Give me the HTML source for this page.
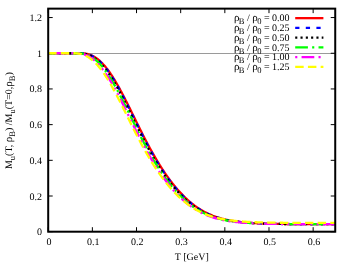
<!DOCTYPE html>
<html><head><meta charset="utf-8"><title>plot</title>
<style>
html,body{margin:0;padding:0;background:#fff;}
body{width:353px;height:263px;overflow:hidden;}
svg{display:block;}
text{font-family:"Liberation Serif",serif;font-size:10px;fill:#000;text-rendering:geometricPrecision;}
.txt{filter:grayscale(1);}
.sub{font-size:8.5px;}
.rho{font-size:11px;}
</style></head><body>
<svg width="353" height="263" viewBox="0 0 353 263">
<rect width="353" height="263" fill="#fff"/>
<path d="M48.20,53.5H335.23" stroke="#9a9a9a" stroke-width="1" fill="none"/>
<g stroke="#000" stroke-width="1" fill="none">
<path d="M48.20,231.70V227.20 M48.20,8.64V13.14"/>
<path d="M92.36,231.70V227.20 M92.36,8.64V13.14"/>
<path d="M136.52,231.70V227.20 M136.52,8.64V13.14"/>
<path d="M180.68,231.70V227.20 M180.68,8.64V13.14"/>
<path d="M224.83,231.70V227.20 M224.83,8.64V13.14"/>
<path d="M268.99,231.70V227.20 M268.99,8.64V13.14"/>
<path d="M313.15,231.70V227.20 M313.15,8.64V13.14"/>
<path d="M48.20,231.70H52.70 M335.23,231.70H330.73"/>
<path d="M48.20,196.01H52.70 M335.23,196.01H330.73"/>
<path d="M48.20,160.32H52.70 M335.23,160.32H330.73"/>
<path d="M48.20,124.63H52.70 M335.23,124.63H330.73"/>
<path d="M48.20,88.94H52.70 M335.23,88.94H330.73"/>
<path d="M48.20,53.25H52.70 M335.23,53.25H330.73"/>
<path d="M48.20,17.56H52.70 M335.23,17.56H330.73"/>
</g>
<g>
<path d="M48.20,53.25 L48.92,53.25 L49.64,53.25 L50.36,53.25 L51.08,53.25 L51.80,53.25 L52.52,53.25 L53.24,53.25 L53.95,53.25 L54.67,53.25 L55.39,53.25 L56.11,53.25 L56.83,53.25 L57.55,53.25 L58.27,53.25 L58.99,53.25 L59.71,53.25 L60.43,53.25 L61.15,53.25 L61.87,53.25 L62.59,53.25 L63.31,53.25 L64.03,53.25 L64.75,53.25 L65.46,53.25 L66.18,53.25 L66.90,53.25 L67.62,53.25 L68.34,53.25 L69.06,53.25 L69.78,53.25 L70.50,53.25 L71.22,53.25 L71.94,53.25 L72.66,53.25 L73.38,53.25 L74.10,53.25 L74.82,53.25 L75.54,53.25 L76.26,53.25 L76.97,53.25 L77.69,53.25 L78.41,53.25 L79.13,53.25 L79.85,53.25 L80.57,53.25 L81.29,53.27 L82.01,53.29 L82.73,53.33 L83.45,53.38 L84.17,53.45 L84.89,53.54 L85.61,53.65 L86.33,53.78 L87.05,53.93 L87.77,54.10 L88.48,54.30 L89.20,54.52 L89.92,54.77 L90.64,55.04 L91.36,55.34 L92.08,55.66 L92.80,56.02 L93.52,56.39 L94.24,56.80 L94.96,57.24 L95.68,57.70 L96.40,58.19 L97.12,58.71 L97.84,59.26 L98.56,59.84 L99.28,60.45 L99.99,61.09 L100.71,61.76 L101.43,62.45 L102.15,63.18 L102.87,63.93 L103.59,64.71 L104.31,65.52 L105.03,66.36 L105.75,67.23 L106.47,68.12 L107.19,69.05 L107.91,69.99 L108.63,70.97 L109.35,71.97 L110.07,73.00 L110.79,74.05 L111.50,75.12 L112.22,76.22 L112.94,77.34 L113.66,78.49 L114.38,79.66 L115.10,80.84 L115.82,82.05 L116.54,83.28 L117.26,84.53 L117.98,85.79 L118.70,87.07 L119.42,88.37 L120.14,89.69 L120.86,91.02 L121.58,92.37 L122.30,93.72 L123.01,95.09 L123.73,96.48 L124.45,97.87 L125.17,99.28 L125.89,100.69 L126.61,102.11 L127.33,103.54 L128.05,104.98 L128.77,106.42 L129.49,107.87 L130.21,109.32 L130.93,110.78 L131.65,112.24 L132.37,113.70 L133.09,115.16 L133.81,116.62 L134.52,118.09 L135.24,119.55 L135.96,121.01 L136.68,122.47 L137.40,123.93 L138.12,125.38 L138.84,126.83 L139.56,128.27 L140.28,129.71 L141.00,131.14 L141.72,132.57 L142.44,133.99 L143.16,135.40 L143.88,136.80 L144.60,138.20 L145.32,139.59 L146.03,140.96 L146.75,142.33 L147.47,143.69 L148.19,145.04 L148.91,146.38 L149.63,147.71 L150.35,149.02 L151.07,150.33 L151.79,151.62 L152.51,152.91 L153.23,154.18 L153.95,155.43 L154.67,156.68 L155.39,157.91 L156.11,159.13 L156.83,160.34 L157.54,161.54 L158.26,162.72 L158.98,163.89 L159.70,165.05 L160.42,166.19 L161.14,167.32 L161.86,168.44 L162.58,169.54 L163.30,170.63 L164.02,171.71 L164.74,172.78 L165.46,173.83 L166.18,174.87 L166.90,175.89 L167.62,176.90 L168.34,177.90 L169.05,178.89 L169.77,179.86 L170.49,180.82 L171.21,181.76 L171.93,182.70 L172.65,183.62 L173.37,184.52 L174.09,185.42 L174.81,186.30 L175.53,187.17 L176.25,188.02 L176.97,188.87 L177.69,189.70 L178.41,190.51 L179.13,191.32 L179.85,192.11 L180.56,192.89 L181.28,193.65 L182.00,194.41 L182.72,195.15 L183.44,195.87 L184.16,196.59 L184.88,197.29 L185.60,197.98 L186.32,198.66 L187.04,199.33 L187.76,199.98 L188.48,200.62 L189.20,201.25 L189.92,201.87 L190.64,202.47 L191.36,203.07 L192.07,203.65 L192.79,204.22 L193.51,204.77 L194.23,205.32 L194.95,205.85 L195.67,206.38 L196.39,206.89 L197.11,207.39 L197.83,207.87 L198.55,208.35 L199.27,208.82 L199.99,209.27 L200.71,209.72 L201.43,210.15 L202.15,210.57 L202.87,210.99 L203.58,211.39 L204.30,211.78 L205.02,212.16 L205.74,212.54 L206.46,212.90 L207.18,213.25 L207.90,213.60 L208.62,213.93 L209.34,214.26 L210.06,214.57 L210.78,214.88 L211.50,215.18 L212.22,215.47 L212.94,215.76 L213.66,216.03 L214.38,216.30 L215.09,216.56 L215.81,216.81 L216.53,217.05 L217.25,217.29 L217.97,217.52 L218.69,217.74 L219.41,217.96 L220.13,218.17 L220.85,218.37 L221.57,218.57 L222.29,218.76 L223.01,218.94 L223.73,219.12 L224.45,219.30 L225.17,219.46 L225.89,219.63 L226.60,219.78 L227.32,219.94 L228.04,220.08 L228.76,220.23 L229.48,220.37 L230.20,220.50 L230.92,220.63 L231.64,220.75 L232.36,220.87 L233.08,220.99 L233.80,221.10 L234.52,221.21 L235.24,221.32 L235.96,221.42 L236.68,221.52 L237.40,221.61 L238.11,221.70 L238.83,221.79 L239.55,221.88 L240.27,221.96 L240.99,222.04 L241.71,222.12 L242.43,222.19 L243.15,222.26 L243.87,222.33 L244.59,222.40 L245.31,222.46 L246.03,222.53 L246.75,222.59 L247.47,222.64 L248.19,222.70 L248.91,222.75 L249.62,222.81 L250.34,222.86 L251.06,222.90 L251.78,222.95 L252.50,223.00 L253.22,223.04 L253.94,223.08 L254.66,223.12 L255.38,223.16 L256.10,223.20 L256.82,223.24 L257.54,223.27 L258.26,223.30 L258.98,223.34 L259.70,223.37 L260.42,223.40 L261.13,223.43 L261.85,223.46 L262.57,223.48 L263.29,223.51 L264.01,223.53 L264.73,223.56 L265.45,223.58 L266.17,223.60 L266.89,223.63 L267.61,223.65 L268.33,223.67 L269.05,223.69 L269.77,223.71 L270.49,223.72 L271.21,223.74 L271.93,223.76 L272.64,223.77 L273.36,223.79 L274.08,223.81 L274.80,223.82 L275.52,223.83 L276.24,223.85 L276.96,223.86 L277.68,223.87 L278.40,223.88 L279.12,223.90 L279.84,223.91 L280.56,223.92 L281.28,223.93 L282.00,223.94 L282.72,223.95 L283.44,223.96 L284.15,223.97 L284.87,223.98 L285.59,223.98 L286.31,223.99 L287.03,224.00 L287.75,224.01 L288.47,224.01 L289.19,224.02 L289.91,224.03 L290.63,224.03 L291.35,224.04 L292.07,224.05 L292.79,224.05 L293.51,224.06 L294.23,224.06 L294.95,224.07 L295.66,224.07 L296.38,224.08 L297.10,224.08 L297.82,224.09 L298.54,224.09 L299.26,224.10 L299.98,224.10 L300.70,224.10 L301.42,224.11 L302.14,224.11 L302.86,224.11 L303.58,224.12 L304.30,224.12 L305.02,224.12 L305.74,224.13 L306.46,224.13 L307.17,224.13 L307.89,224.13 L308.61,224.14 L309.33,224.14 L310.05,224.14 L310.77,224.14 L311.49,224.15 L312.21,224.15 L312.93,224.15 L313.65,224.15 L314.37,224.15 L315.09,224.16 L315.81,224.16 L316.53,224.16 L317.25,224.16 L317.97,224.16 L318.68,224.16 L319.40,224.17 L320.12,224.17 L320.84,224.17 L321.56,224.17 L322.28,224.17 L323.00,224.17 L323.72,224.17 L324.44,224.17 L325.16,224.18 L325.88,224.18 L326.60,224.18 L327.32,224.18 L328.04,224.18 L328.76,224.18 L329.48,224.18 L330.19,224.18 L330.91,224.18 L331.63,224.18 L332.35,224.18 L333.07,224.19 L333.79,224.19 L334.51,224.19 L335.23,224.19" fill="none" stroke="#ff0000" stroke-width="2.30"/>
<path d="M48.20,53.25 L48.92,53.25 L49.64,53.25 L50.36,53.25 L51.08,53.25 L51.80,53.25 L52.52,53.25 L53.24,53.25 L53.95,53.25 L54.67,53.25 L55.39,53.25 L56.11,53.25 L56.83,53.25 L57.55,53.25 L58.27,53.25 L58.99,53.25 L59.71,53.25 L60.43,53.25 L61.15,53.25 L61.87,53.25 L62.59,53.25 L63.31,53.25 L64.03,53.25 L64.75,53.25 L65.46,53.25 L66.18,53.25 L66.90,53.25 L67.62,53.25 L68.34,53.25 L69.06,53.25 L69.78,53.25 L70.50,53.25 L71.22,53.25 L71.94,53.25 L72.66,53.25 L73.38,53.25 L74.10,53.25 L74.82,53.25 L75.54,53.25 L76.26,53.25 L76.97,53.25 L77.69,53.25 L78.41,53.25 L79.13,53.25 L79.85,53.25 L80.57,53.26 L81.29,53.29 L82.01,53.32 L82.73,53.37 L83.45,53.44 L84.17,53.53 L84.89,53.63 L85.61,53.76 L86.33,53.90 L87.05,54.07 L87.77,54.26 L88.48,54.48 L89.20,54.72 L89.92,54.99 L90.64,55.28 L91.36,55.60 L92.08,55.95 L92.80,56.32 L93.52,56.73 L94.24,57.16 L94.96,57.62 L95.68,58.10 L96.40,58.62 L97.12,59.16 L97.84,59.74 L98.56,60.34 L99.28,60.97 L99.99,61.63 L100.71,62.33 L101.43,63.05 L102.15,63.79 L102.87,64.57 L103.59,65.38 L104.31,66.21 L105.03,67.07 L105.75,67.96 L106.47,68.88 L107.19,69.82 L107.91,70.79 L108.63,71.79 L109.35,72.81 L110.07,73.86 L110.79,74.93 L111.50,76.02 L112.22,77.14 L112.94,78.28 L113.66,79.44 L114.38,80.63 L115.10,81.83 L115.82,83.06 L116.54,84.30 L117.26,85.56 L117.98,86.84 L118.70,88.14 L119.42,89.45 L120.14,90.78 L120.86,92.12 L121.58,93.48 L122.30,94.85 L123.01,96.23 L123.73,97.62 L124.45,99.02 L125.17,100.44 L125.89,101.86 L126.61,103.28 L127.33,104.72 L128.05,106.16 L128.77,107.61 L129.49,109.06 L130.21,110.52 L130.93,111.98 L131.65,113.44 L132.37,114.90 L133.09,116.36 L133.81,117.83 L134.52,119.29 L135.24,120.75 L135.96,122.21 L136.68,123.66 L137.40,125.12 L138.12,126.57 L138.84,128.01 L139.56,129.45 L140.28,130.88 L141.00,132.31 L141.72,133.73 L142.44,135.15 L143.16,136.55 L143.88,137.95 L144.60,139.34 L145.32,140.72 L146.03,142.09 L146.75,143.45 L147.47,144.80 L148.19,146.14 L148.91,147.47 L149.63,148.79 L150.35,150.10 L151.07,151.39 L151.79,152.68 L152.51,153.95 L153.23,155.21 L153.95,156.46 L154.67,157.69 L155.39,158.92 L156.11,160.13 L156.83,161.33 L157.54,162.51 L158.26,163.68 L158.98,164.84 L159.70,165.99 L160.42,167.12 L161.14,168.24 L161.86,169.35 L162.58,170.44 L163.30,171.52 L164.02,172.59 L164.74,173.64 L165.46,174.68 L166.18,175.71 L166.90,176.72 L167.62,177.72 L168.34,178.71 L169.05,179.69 L169.77,180.65 L170.49,181.60 L171.21,182.53 L171.93,183.45 L172.65,184.36 L173.37,185.26 L174.09,186.14 L174.81,187.01 L175.53,187.87 L176.25,188.72 L176.97,189.55 L177.69,190.37 L178.41,191.17 L179.13,191.97 L179.85,192.75 L180.56,193.52 L181.28,194.27 L182.00,195.01 L182.72,195.75 L183.44,196.46 L184.16,197.17 L184.88,197.86 L185.60,198.54 L186.32,199.21 L187.04,199.87 L187.76,200.51 L188.48,201.14 L189.20,201.76 L189.92,202.37 L190.64,202.96 L191.36,203.54 L192.07,204.12 L192.79,204.67 L193.51,205.22 L194.23,205.76 L194.95,206.28 L195.67,206.80 L196.39,207.30 L197.11,207.79 L197.83,208.27 L198.55,208.73 L199.27,209.19 L199.99,209.64 L200.71,210.07 L201.43,210.50 L202.15,210.91 L202.87,211.32 L203.58,211.71 L204.30,212.10 L205.02,212.47 L205.74,212.83 L206.46,213.19 L207.18,213.54 L207.90,213.87 L208.62,214.20 L209.34,214.52 L210.06,214.83 L210.78,215.13 L211.50,215.42 L212.22,215.71 L212.94,215.98 L213.66,216.25 L214.38,216.51 L215.09,216.76 L215.81,217.01 L216.53,217.25 L217.25,217.48 L217.97,217.70 L218.69,217.92 L219.41,218.13 L220.13,218.34 L220.85,218.53 L221.57,218.73 L222.29,218.91 L223.01,219.09 L223.73,219.27 L224.45,219.44 L225.17,219.60 L225.89,219.76 L226.60,219.91 L227.32,220.06 L228.04,220.20 L228.76,220.34 L229.48,220.47 L230.20,220.60 L230.92,220.73 L231.64,220.85 L232.36,220.97 L233.08,221.08 L233.80,221.19 L234.52,221.30 L235.24,221.40 L235.96,221.50 L236.68,221.59 L237.40,221.69 L238.11,221.78 L238.83,221.86 L239.55,221.95 L240.27,222.03 L240.99,222.10 L241.71,222.18 L242.43,222.25 L243.15,222.32 L243.87,222.39 L244.59,222.45 L245.31,222.51 L246.03,222.58 L246.75,222.63 L247.47,222.69 L248.19,222.74 L248.91,222.80 L249.62,222.85 L250.34,222.90 L251.06,222.94 L251.78,222.99 L252.50,223.03 L253.22,223.07 L253.94,223.12 L254.66,223.15 L255.38,223.19 L256.10,223.23 L256.82,223.26 L257.54,223.30 L258.26,223.33 L258.98,223.36 L259.70,223.39 L260.42,223.42 L261.13,223.45 L261.85,223.48 L262.57,223.50 L263.29,223.53 L264.01,223.55 L264.73,223.58 L265.45,223.60 L266.17,223.62 L266.89,223.64 L267.61,223.66 L268.33,223.68 L269.05,223.70 L269.77,223.72 L270.49,223.74 L271.21,223.76 L271.93,223.77 L272.64,223.79 L273.36,223.80 L274.08,223.82 L274.80,223.83 L275.52,223.84 L276.24,223.86 L276.96,223.87 L277.68,223.88 L278.40,223.89 L279.12,223.91 L279.84,223.92 L280.56,223.93 L281.28,223.94 L282.00,223.95 L282.72,223.96 L283.44,223.97 L284.15,223.97 L284.87,223.98 L285.59,223.99 L286.31,224.00 L287.03,224.01 L287.75,224.01 L288.47,224.02 L289.19,224.03 L289.91,224.03 L290.63,224.04 L291.35,224.05 L292.07,224.05 L292.79,224.06 L293.51,224.06 L294.23,224.07 L294.95,224.07 L295.66,224.08 L296.38,224.08 L297.10,224.09 L297.82,224.09 L298.54,224.09 L299.26,224.10 L299.98,224.10 L300.70,224.11 L301.42,224.11 L302.14,224.11 L302.86,224.12 L303.58,224.12 L304.30,224.12 L305.02,224.13 L305.74,224.13 L306.46,224.13 L307.17,224.13 L307.89,224.14 L308.61,224.14 L309.33,224.14 L310.05,224.14 L310.77,224.15 L311.49,224.15 L312.21,224.15 L312.93,224.15 L313.65,224.15 L314.37,224.16 L315.09,224.16 L315.81,224.16 L316.53,224.16 L317.25,224.16 L317.97,224.16 L318.68,224.17 L319.40,224.17 L320.12,224.17 L320.84,224.17 L321.56,224.17 L322.28,224.17 L323.00,224.17 L323.72,224.17 L324.44,224.18 L325.16,224.18 L325.88,224.18 L326.60,224.18 L327.32,224.18 L328.04,224.18 L328.76,224.18 L329.48,224.18 L330.19,224.18 L330.91,224.18 L331.63,224.18 L332.35,224.19 L333.07,224.19 L333.79,224.19 L334.51,224.19 L335.23,224.19" fill="none" stroke="#0000ff" stroke-width="2.30" stroke-dasharray="4.209,6.313"/>
<path d="M48.20,53.25 L48.92,53.25 L49.64,53.25 L50.36,53.25 L51.08,53.25 L51.80,53.25 L52.52,53.25 L53.24,53.25 L53.95,53.25 L54.67,53.25 L55.39,53.25 L56.11,53.25 L56.83,53.25 L57.55,53.25 L58.27,53.25 L58.99,53.25 L59.71,53.25 L60.43,53.25 L61.15,53.25 L61.87,53.25 L62.59,53.25 L63.31,53.25 L64.03,53.25 L64.75,53.25 L65.46,53.25 L66.18,53.25 L66.90,53.25 L67.62,53.25 L68.34,53.25 L69.06,53.25 L69.78,53.25 L70.50,53.25 L71.22,53.25 L71.94,53.25 L72.66,53.25 L73.38,53.25 L74.10,53.25 L74.82,53.25 L75.54,53.25 L76.26,53.25 L76.97,53.25 L77.69,53.25 L78.41,53.25 L79.13,53.26 L79.85,53.27 L80.57,53.30 L81.29,53.35 L82.01,53.40 L82.73,53.48 L83.45,53.57 L84.17,53.69 L84.89,53.83 L85.61,53.98 L86.33,54.17 L87.05,54.37 L87.77,54.60 L88.48,54.85 L89.20,55.13 L89.92,55.44 L90.64,55.77 L91.36,56.13 L92.08,56.52 L92.80,56.94 L93.52,57.38 L94.24,57.86 L94.96,58.36 L95.68,58.89 L96.40,59.45 L97.12,60.04 L97.84,60.65 L98.56,61.30 L99.28,61.98 L99.99,62.68 L100.71,63.42 L101.43,64.18 L102.15,64.97 L102.87,65.79 L103.59,66.64 L104.31,67.51 L105.03,68.42 L105.75,69.35 L106.47,70.31 L107.19,71.29 L107.91,72.30 L108.63,73.33 L109.35,74.39 L110.07,75.47 L110.79,76.58 L111.50,77.71 L112.22,78.86 L112.94,80.04 L113.66,81.23 L114.38,82.44 L115.10,83.68 L115.82,84.93 L116.54,86.20 L117.26,87.49 L117.98,88.80 L118.70,90.12 L119.42,91.45 L120.14,92.80 L120.86,94.16 L121.58,95.54 L122.30,96.92 L123.01,98.32 L123.73,99.73 L124.45,101.15 L125.17,102.57 L125.89,104.00 L126.61,105.44 L127.33,106.89 L128.05,108.34 L128.77,109.79 L129.49,111.25 L130.21,112.71 L130.93,114.17 L131.65,115.63 L132.37,117.09 L133.09,118.56 L133.81,120.02 L134.52,121.48 L135.24,122.94 L135.96,124.39 L136.68,125.84 L137.40,127.29 L138.12,128.73 L138.84,130.17 L139.56,131.60 L140.28,133.02 L141.00,134.44 L141.72,135.85 L142.44,137.25 L143.16,138.65 L143.88,140.03 L144.60,141.41 L145.32,142.77 L146.03,144.13 L146.75,145.47 L147.47,146.81 L148.19,148.13 L148.91,149.45 L149.63,150.75 L150.35,152.04 L151.07,153.32 L151.79,154.58 L152.51,155.84 L153.23,157.08 L153.95,158.31 L154.67,159.52 L155.39,160.73 L156.11,161.92 L156.83,163.10 L157.54,164.26 L158.26,165.42 L158.98,166.56 L159.70,167.68 L160.42,168.80 L161.14,169.90 L161.86,170.98 L162.58,172.06 L163.30,173.12 L164.02,174.16 L164.74,175.20 L165.46,176.22 L166.18,177.23 L166.90,178.22 L167.62,179.20 L168.34,180.17 L169.05,181.12 L169.77,182.07 L170.49,183.00 L171.21,183.91 L171.93,184.81 L172.65,185.70 L173.37,186.58 L174.09,187.44 L174.81,188.30 L175.53,189.13 L176.25,189.96 L176.97,190.77 L177.69,191.57 L178.41,192.36 L179.13,193.13 L179.85,193.90 L180.56,194.65 L181.28,195.38 L182.00,196.11 L182.72,196.82 L183.44,197.52 L184.16,198.20 L184.88,198.88 L185.60,199.54 L186.32,200.19 L187.04,200.83 L187.76,201.45 L188.48,202.06 L189.20,202.67 L189.92,203.25 L190.64,203.83 L191.36,204.40 L192.07,204.95 L192.79,205.49 L193.51,206.02 L194.23,206.54 L194.95,207.05 L195.67,207.54 L196.39,208.03 L197.11,208.50 L197.83,208.96 L198.55,209.42 L199.27,209.86 L199.99,210.29 L200.71,210.71 L201.43,211.12 L202.15,211.52 L202.87,211.91 L203.58,212.28 L204.30,212.65 L205.02,213.01 L205.74,213.36 L206.46,213.71 L207.18,214.04 L207.90,214.36 L208.62,214.67 L209.34,214.98 L210.06,215.28 L210.78,215.56 L211.50,215.84 L212.22,216.12 L212.94,216.38 L213.66,216.64 L214.38,216.89 L215.09,217.13 L215.81,217.36 L216.53,217.59 L217.25,217.81 L217.97,218.03 L218.69,218.23 L219.41,218.44 L220.13,218.63 L220.85,218.82 L221.57,219.00 L222.29,219.18 L223.01,219.35 L223.73,219.52 L224.45,219.68 L225.17,219.83 L225.89,219.99 L226.60,220.13 L227.32,220.27 L228.04,220.41 L228.76,220.54 L229.48,220.67 L230.20,220.79 L230.92,220.91 L231.64,221.03 L232.36,221.14 L233.08,221.25 L233.80,221.35 L234.52,221.45 L235.24,221.55 L235.96,221.64 L236.68,221.73 L237.40,221.82 L238.11,221.90 L238.83,221.99 L239.55,222.06 L240.27,222.14 L240.99,222.21 L241.71,222.29 L242.43,222.35 L243.15,222.42 L243.87,222.48 L244.59,222.55 L245.31,222.60 L246.03,222.66 L246.75,222.72 L247.47,222.77 L248.19,222.82 L248.91,222.87 L249.62,222.92 L250.34,222.97 L251.06,223.01 L251.78,223.05 L252.50,223.10 L253.22,223.14 L253.94,223.17 L254.66,223.21 L255.38,223.25 L256.10,223.28 L256.82,223.32 L257.54,223.35 L258.26,223.38 L258.98,223.41 L259.70,223.44 L260.42,223.46 L261.13,223.49 L261.85,223.52 L262.57,223.54 L263.29,223.57 L264.01,223.59 L264.73,223.61 L265.45,223.63 L266.17,223.65 L266.89,223.67 L267.61,223.69 L268.33,223.71 L269.05,223.73 L269.77,223.75 L270.49,223.76 L271.21,223.78 L271.93,223.79 L272.64,223.81 L273.36,223.82 L274.08,223.84 L274.80,223.85 L275.52,223.86 L276.24,223.88 L276.96,223.89 L277.68,223.90 L278.40,223.91 L279.12,223.92 L279.84,223.93 L280.56,223.94 L281.28,223.95 L282.00,223.96 L282.72,223.97 L283.44,223.98 L284.15,223.99 L284.87,223.99 L285.59,224.00 L286.31,224.01 L287.03,224.02 L287.75,224.02 L288.47,224.03 L289.19,224.04 L289.91,224.04 L290.63,224.05 L291.35,224.05 L292.07,224.06 L292.79,224.06 L293.51,224.07 L294.23,224.07 L294.95,224.08 L295.66,224.08 L296.38,224.09 L297.10,224.09 L297.82,224.10 L298.54,224.10 L299.26,224.10 L299.98,224.11 L300.70,224.11 L301.42,224.11 L302.14,224.12 L302.86,224.12 L303.58,224.12 L304.30,224.13 L305.02,224.13 L305.74,224.13 L306.46,224.14 L307.17,224.14 L307.89,224.14 L308.61,224.14 L309.33,224.14 L310.05,224.15 L310.77,224.15 L311.49,224.15 L312.21,224.15 L312.93,224.15 L313.65,224.16 L314.37,224.16 L315.09,224.16 L315.81,224.16 L316.53,224.16 L317.25,224.16 L317.97,224.17 L318.68,224.17 L319.40,224.17 L320.12,224.17 L320.84,224.17 L321.56,224.17 L322.28,224.17 L323.00,224.18 L323.72,224.18 L324.44,224.18 L325.16,224.18 L325.88,224.18 L326.60,224.18 L327.32,224.18 L328.04,224.18 L328.76,224.18 L329.48,224.18 L330.19,224.18 L330.91,224.19 L331.63,224.19 L332.35,224.19 L333.07,224.19 L333.79,224.19 L334.51,224.19 L335.23,224.19" fill="none" stroke="#000000" stroke-width="2.30" stroke-dasharray="2.104,3.157"/>
<path d="M48.20,53.25 L48.92,53.25 L49.64,53.25 L50.36,53.25 L51.08,53.25 L51.80,53.25 L52.52,53.25 L53.24,53.25 L53.95,53.25 L54.67,53.25 L55.39,53.25 L56.11,53.25 L56.83,53.25 L57.55,53.25 L58.27,53.25 L58.99,53.25 L59.71,53.25 L60.43,53.25 L61.15,53.25 L61.87,53.25 L62.59,53.25 L63.31,53.25 L64.03,53.25 L64.75,53.25 L65.46,53.25 L66.18,53.25 L66.90,53.25 L67.62,53.25 L68.34,53.25 L69.06,53.25 L69.78,53.25 L70.50,53.25 L71.22,53.25 L71.94,53.25 L72.66,53.25 L73.38,53.25 L74.10,53.25 L74.82,53.25 L75.54,53.25 L76.26,53.25 L76.97,53.25 L77.69,53.26 L78.41,53.27 L79.13,53.30 L79.85,53.34 L80.57,53.40 L81.29,53.48 L82.01,53.57 L82.73,53.68 L83.45,53.82 L84.17,53.97 L84.89,54.15 L85.61,54.36 L86.33,54.59 L87.05,54.84 L87.77,55.12 L88.48,55.42 L89.20,55.75 L89.92,56.11 L90.64,56.50 L91.36,56.91 L92.08,57.36 L92.80,57.83 L93.52,58.33 L94.24,58.86 L94.96,59.41 L95.68,60.00 L96.40,60.62 L97.12,61.26 L97.84,61.94 L98.56,62.64 L99.28,63.37 L99.99,64.14 L100.71,64.93 L101.43,65.74 L102.15,66.59 L102.87,67.46 L103.59,68.37 L104.31,69.30 L105.03,70.25 L105.75,71.23 L106.47,72.24 L107.19,73.27 L107.91,74.33 L108.63,75.41 L109.35,76.52 L110.07,77.65 L110.79,78.80 L111.50,79.97 L112.22,81.16 L112.94,82.38 L113.66,83.61 L114.38,84.86 L115.10,86.13 L115.82,87.42 L116.54,88.72 L117.26,90.04 L117.98,91.38 L118.70,92.72 L119.42,94.09 L120.14,95.46 L120.86,96.85 L121.58,98.24 L122.30,99.65 L123.01,101.07 L123.73,102.49 L124.45,103.92 L125.17,105.36 L125.89,106.80 L126.61,108.25 L127.33,109.71 L128.05,111.16 L128.77,112.62 L129.49,114.09 L130.21,115.55 L130.93,117.01 L131.65,118.48 L132.37,119.94 L133.09,121.40 L133.81,122.86 L134.52,124.31 L135.24,125.76 L135.96,127.21 L136.68,128.65 L137.40,130.09 L138.12,131.52 L138.84,132.94 L139.56,134.36 L140.28,135.77 L141.00,137.17 L141.72,138.57 L142.44,139.95 L143.16,141.33 L143.88,142.69 L144.60,144.05 L145.32,145.40 L146.03,146.73 L146.75,148.06 L147.47,149.37 L148.19,150.67 L148.91,151.96 L149.63,153.24 L150.35,154.51 L151.07,155.77 L151.79,157.01 L152.51,158.24 L153.23,159.46 L153.95,160.66 L154.67,161.85 L155.39,163.03 L156.11,164.20 L156.83,165.35 L157.54,166.49 L158.26,167.62 L158.98,168.73 L159.70,169.83 L160.42,170.92 L161.14,172.00 L161.86,173.06 L162.58,174.10 L163.30,175.14 L164.02,176.16 L164.74,177.17 L165.46,178.16 L166.18,179.15 L166.90,180.12 L167.62,181.07 L168.34,182.01 L169.05,182.94 L169.77,183.86 L170.49,184.76 L171.21,185.65 L171.93,186.53 L172.65,187.40 L173.37,188.25 L174.09,189.09 L174.81,189.91 L175.53,190.73 L176.25,191.53 L176.97,192.32 L177.69,193.09 L178.41,193.85 L179.13,194.60 L179.85,195.34 L180.56,196.07 L181.28,196.78 L182.00,197.48 L182.72,198.16 L183.44,198.84 L184.16,199.50 L184.88,200.15 L185.60,200.79 L186.32,201.42 L187.04,202.03 L187.76,202.63 L188.48,203.22 L189.20,203.80 L189.92,204.37 L190.64,204.92 L191.36,205.46 L192.07,205.99 L192.79,206.51 L193.51,207.02 L194.23,207.52 L194.95,208.00 L195.67,208.48 L196.39,208.94 L197.11,209.39 L197.83,209.83 L198.55,210.26 L199.27,210.68 L199.99,211.09 L200.71,211.49 L201.43,211.88 L202.15,212.26 L202.87,212.63 L203.58,212.99 L204.30,213.34 L205.02,213.69 L205.74,214.02 L206.46,214.34 L207.18,214.66 L207.90,214.96 L208.62,215.26 L209.34,215.55 L210.06,215.83 L210.78,216.10 L211.50,216.37 L212.22,216.62 L212.94,216.87 L213.66,217.12 L214.38,217.35 L215.09,217.58 L215.81,217.80 L216.53,218.02 L217.25,218.22 L217.97,218.42 L218.69,218.62 L219.41,218.81 L220.13,218.99 L220.85,219.17 L221.57,219.34 L222.29,219.51 L223.01,219.67 L223.73,219.83 L224.45,219.98 L225.17,220.12 L225.89,220.26 L226.60,220.40 L227.32,220.53 L228.04,220.66 L228.76,220.78 L229.48,220.90 L230.20,221.02 L230.92,221.13 L231.64,221.24 L232.36,221.34 L233.08,221.44 L233.80,221.54 L234.52,221.64 L235.24,221.73 L235.96,221.81 L236.68,221.90 L237.40,221.98 L238.11,222.06 L238.83,222.14 L239.55,222.21 L240.27,222.28 L240.99,222.35 L241.71,222.42 L242.43,222.48 L243.15,222.54 L243.87,222.60 L244.59,222.66 L245.31,222.71 L246.03,222.77 L246.75,222.82 L247.47,222.87 L248.19,222.92 L248.91,222.96 L249.62,223.01 L250.34,223.05 L251.06,223.09 L251.78,223.13 L252.50,223.17 L253.22,223.21 L253.94,223.25 L254.66,223.28 L255.38,223.31 L256.10,223.35 L256.82,223.38 L257.54,223.41 L258.26,223.44 L258.98,223.46 L259.70,223.49 L260.42,223.52 L261.13,223.54 L261.85,223.56 L262.57,223.59 L263.29,223.61 L264.01,223.63 L264.73,223.65 L265.45,223.67 L266.17,223.69 L266.89,223.71 L267.61,223.73 L268.33,223.75 L269.05,223.76 L269.77,223.78 L270.49,223.79 L271.21,223.81 L271.93,223.82 L272.64,223.84 L273.36,223.85 L274.08,223.86 L274.80,223.88 L275.52,223.89 L276.24,223.90 L276.96,223.91 L277.68,223.92 L278.40,223.93 L279.12,223.94 L279.84,223.95 L280.56,223.96 L281.28,223.97 L282.00,223.98 L282.72,223.99 L283.44,223.99 L284.15,224.00 L284.87,224.01 L285.59,224.02 L286.31,224.02 L287.03,224.03 L287.75,224.04 L288.47,224.04 L289.19,224.05 L289.91,224.05 L290.63,224.06 L291.35,224.06 L292.07,224.07 L292.79,224.07 L293.51,224.08 L294.23,224.08 L294.95,224.09 L295.66,224.09 L296.38,224.10 L297.10,224.10 L297.82,224.10 L298.54,224.11 L299.26,224.11 L299.98,224.11 L300.70,224.12 L301.42,224.12 L302.14,224.12 L302.86,224.13 L303.58,224.13 L304.30,224.13 L305.02,224.14 L305.74,224.14 L306.46,224.14 L307.17,224.14 L307.89,224.14 L308.61,224.15 L309.33,224.15 L310.05,224.15 L310.77,224.15 L311.49,224.15 L312.21,224.16 L312.93,224.16 L313.65,224.16 L314.37,224.16 L315.09,224.16 L315.81,224.16 L316.53,224.17 L317.25,224.17 L317.97,224.17 L318.68,224.17 L319.40,224.17 L320.12,224.17 L320.84,224.17 L321.56,224.18 L322.28,224.18 L323.00,224.18 L323.72,224.18 L324.44,224.18 L325.16,224.18 L325.88,224.18 L326.60,224.18 L327.32,224.18 L328.04,224.18 L328.76,224.18 L329.48,224.18 L330.19,224.19 L330.91,224.19 L331.63,224.19 L332.35,224.19 L333.07,224.19 L333.79,224.19 L334.51,224.19 L335.23,224.19" fill="none" stroke="#00ff00" stroke-width="2.30" stroke-dasharray="12.627,4.209,2.104,4.209"/>
<path d="M48.20,53.25 L48.92,53.25 L49.64,53.25 L50.36,53.25 L51.08,53.25 L51.80,53.25 L52.52,53.25 L53.24,53.25 L53.95,53.25 L54.67,53.25 L55.39,53.25 L56.11,53.25 L56.83,53.25 L57.55,53.25 L58.27,53.25 L58.99,53.25 L59.71,53.25 L60.43,53.25 L61.15,53.25 L61.87,53.25 L62.59,53.25 L63.31,53.25 L64.03,53.25 L64.75,53.25 L65.46,53.25 L66.18,53.25 L66.90,53.25 L67.62,53.25 L68.34,53.25 L69.06,53.25 L69.78,53.25 L70.50,53.25 L71.22,53.25 L71.94,53.25 L72.66,53.25 L73.38,53.25 L74.10,53.25 L74.82,53.25 L75.54,53.25 L76.26,53.26 L76.97,53.28 L77.69,53.31 L78.41,53.36 L79.13,53.42 L79.85,53.50 L80.57,53.60 L81.29,53.72 L82.01,53.86 L82.73,54.03 L83.45,54.21 L84.17,54.42 L84.89,54.66 L85.61,54.92 L86.33,55.21 L87.05,55.52 L87.77,55.86 L88.48,56.23 L89.20,56.62 L89.92,57.04 L90.64,57.50 L91.36,57.98 L92.08,58.48 L92.80,59.02 L93.52,59.59 L94.24,60.18 L94.96,60.81 L95.68,61.46 L96.40,62.15 L97.12,62.86 L97.84,63.60 L98.56,64.37 L99.28,65.17 L99.99,66.00 L100.71,66.85 L101.43,67.73 L102.15,68.64 L102.87,69.58 L103.59,70.54 L104.31,71.53 L105.03,72.55 L105.75,73.59 L106.47,74.65 L107.19,75.74 L107.91,76.85 L108.63,77.99 L109.35,79.15 L110.07,80.33 L110.79,81.53 L111.50,82.74 L112.22,83.98 L112.94,85.24 L113.66,86.52 L114.38,87.81 L115.10,89.12 L115.82,90.44 L116.54,91.78 L117.26,93.13 L117.98,94.50 L118.70,95.88 L119.42,97.27 L120.14,98.67 L120.86,100.08 L121.58,101.49 L122.30,102.92 L123.01,104.35 L123.73,105.80 L124.45,107.24 L125.17,108.69 L125.89,110.15 L126.61,111.60 L127.33,113.06 L128.05,114.53 L128.77,115.99 L129.49,117.45 L130.21,118.92 L130.93,120.38 L131.65,121.84 L132.37,123.29 L133.09,124.75 L133.81,126.20 L134.52,127.64 L135.24,129.09 L135.96,130.52 L136.68,131.95 L137.40,133.37 L138.12,134.79 L138.84,136.19 L139.56,137.59 L140.28,138.99 L141.00,140.37 L141.72,141.74 L142.44,143.10 L143.16,144.46 L143.88,145.80 L144.60,147.13 L145.32,148.46 L146.03,149.77 L146.75,151.06 L147.47,152.35 L148.19,153.63 L148.91,154.89 L149.63,156.14 L150.35,157.38 L151.07,158.61 L151.79,159.82 L152.51,161.02 L153.23,162.21 L153.95,163.39 L154.67,164.55 L155.39,165.70 L156.11,166.83 L156.83,167.96 L157.54,169.07 L158.26,170.16 L158.98,171.25 L159.70,172.32 L160.42,173.37 L161.14,174.42 L161.86,175.45 L162.58,176.47 L163.30,177.47 L164.02,178.46 L164.74,179.44 L165.46,180.40 L166.18,181.36 L166.90,182.30 L167.62,183.22 L168.34,184.13 L169.05,185.03 L169.77,185.92 L170.49,186.79 L171.21,187.65 L171.93,188.50 L172.65,189.34 L173.37,190.16 L174.09,190.97 L174.81,191.77 L175.53,192.55 L176.25,193.32 L176.97,194.08 L177.69,194.83 L178.41,195.56 L179.13,196.28 L179.85,196.99 L180.56,197.69 L181.28,198.37 L182.00,199.04 L182.72,199.70 L183.44,200.35 L184.16,200.98 L184.88,201.60 L185.60,202.21 L186.32,202.81 L187.04,203.40 L187.76,203.97 L188.48,204.53 L189.20,205.08 L189.92,205.62 L190.64,206.15 L191.36,206.67 L192.07,207.17 L192.79,207.66 L193.51,208.15 L194.23,208.62 L194.95,209.08 L195.67,209.53 L196.39,209.96 L197.11,210.39 L197.83,210.81 L198.55,211.22 L199.27,211.61 L199.99,212.00 L200.71,212.38 L201.43,212.74 L202.15,213.10 L202.87,213.45 L203.58,213.79 L204.30,214.12 L205.02,214.44 L205.74,214.75 L206.46,215.05 L207.18,215.35 L207.90,215.63 L208.62,215.91 L209.34,216.18 L210.06,216.45 L210.78,216.70 L211.50,216.95 L212.22,217.19 L212.94,217.42 L213.66,217.65 L214.38,217.87 L215.09,218.08 L215.81,218.28 L216.53,218.48 L217.25,218.68 L217.97,218.86 L218.69,219.05 L219.41,219.22 L220.13,219.39 L220.85,219.56 L221.57,219.72 L222.29,219.87 L223.01,220.02 L223.73,220.17 L224.45,220.31 L225.17,220.44 L225.89,220.57 L226.60,220.70 L227.32,220.82 L228.04,220.94 L228.76,221.05 L229.48,221.16 L230.20,221.27 L230.92,221.37 L231.64,221.47 L232.36,221.57 L233.08,221.66 L233.80,221.75 L234.52,221.84 L235.24,221.92 L235.96,222.01 L236.68,222.08 L237.40,222.16 L238.11,222.23 L238.83,222.30 L239.55,222.37 L240.27,222.44 L240.99,222.50 L241.71,222.56 L242.43,222.62 L243.15,222.68 L243.87,222.73 L244.59,222.78 L245.31,222.83 L246.03,222.88 L246.75,222.93 L247.47,222.98 L248.19,223.02 L248.91,223.06 L249.62,223.11 L250.34,223.15 L251.06,223.18 L251.78,223.22 L252.50,223.26 L253.22,223.29 L253.94,223.32 L254.66,223.35 L255.38,223.39 L256.10,223.42 L256.82,223.44 L257.54,223.47 L258.26,223.50 L258.98,223.52 L259.70,223.55 L260.42,223.57 L261.13,223.59 L261.85,223.62 L262.57,223.64 L263.29,223.66 L264.01,223.68 L264.73,223.70 L265.45,223.72 L266.17,223.73 L266.89,223.75 L267.61,223.77 L268.33,223.78 L269.05,223.80 L269.77,223.81 L270.49,223.83 L271.21,223.84 L271.93,223.85 L272.64,223.87 L273.36,223.88 L274.08,223.89 L274.80,223.90 L275.52,223.91 L276.24,223.92 L276.96,223.93 L277.68,223.94 L278.40,223.95 L279.12,223.96 L279.84,223.97 L280.56,223.98 L281.28,223.99 L282.00,224.00 L282.72,224.00 L283.44,224.01 L284.15,224.02 L284.87,224.02 L285.59,224.03 L286.31,224.04 L287.03,224.04 L287.75,224.05 L288.47,224.06 L289.19,224.06 L289.91,224.07 L290.63,224.07 L291.35,224.08 L292.07,224.08 L292.79,224.08 L293.51,224.09 L294.23,224.09 L294.95,224.10 L295.66,224.10 L296.38,224.11 L297.10,224.11 L297.82,224.11 L298.54,224.12 L299.26,224.12 L299.98,224.12 L300.70,224.12 L301.42,224.13 L302.14,224.13 L302.86,224.13 L303.58,224.14 L304.30,224.14 L305.02,224.14 L305.74,224.14 L306.46,224.15 L307.17,224.15 L307.89,224.15 L308.61,224.15 L309.33,224.15 L310.05,224.16 L310.77,224.16 L311.49,224.16 L312.21,224.16 L312.93,224.16 L313.65,224.16 L314.37,224.17 L315.09,224.17 L315.81,224.17 L316.53,224.17 L317.25,224.17 L317.97,224.17 L318.68,224.17 L319.40,224.17 L320.12,224.18 L320.84,224.18 L321.56,224.18 L322.28,224.18 L323.00,224.18 L323.72,224.18 L324.44,224.18 L325.16,224.18 L325.88,224.18 L326.60,224.18 L327.32,224.18 L328.04,224.19 L328.76,224.19 L329.48,224.19 L330.19,224.19 L330.91,224.19 L331.63,224.19 L332.35,224.19 L333.07,224.19 L333.79,224.19 L334.51,224.19 L335.23,224.19" fill="none" stroke="#ff00ff" stroke-width="2.30" stroke-dasharray="2.104,4.209,12.627,4.209,2.104,4.209"/>
<path d="M48.20,53.25 L48.92,53.25 L49.64,53.25 L50.36,53.25 L51.08,53.25 L51.80,53.25 L52.52,53.25 L53.24,53.25 L53.95,53.25 L54.67,53.25 L55.39,53.25 L56.11,53.25 L56.83,53.25 L57.55,53.25 L58.27,53.25 L58.99,53.25 L59.71,53.25 L60.43,53.25 L61.15,53.25 L61.87,53.25 L62.59,53.25 L63.31,53.25 L64.03,53.25 L64.75,53.25 L65.46,53.25 L66.18,53.25 L66.90,53.25 L67.62,53.25 L68.34,53.25 L69.06,53.25 L69.78,53.25 L70.50,53.25 L71.22,53.25 L71.94,53.25 L72.66,53.25 L73.38,53.25 L74.10,53.26 L74.82,53.27 L75.54,53.30 L76.26,53.34 L76.97,53.39 L77.69,53.47 L78.41,53.56 L79.13,53.67 L79.85,53.80 L80.57,53.95 L81.29,54.13 L82.01,54.33 L82.73,54.56 L83.45,54.80 L84.17,55.08 L84.89,55.38 L85.61,55.71 L86.33,56.06 L87.05,56.44 L87.77,56.85 L88.48,57.29 L89.20,57.75 L89.92,58.25 L90.64,58.77 L91.36,59.32 L92.08,59.90 L92.80,60.51 L93.52,61.15 L94.24,61.81 L94.96,62.51 L95.68,63.24 L96.40,63.99 L97.12,64.77 L97.84,65.58 L98.56,66.42 L99.28,67.28 L99.99,68.18 L100.71,69.10 L101.43,70.04 L102.15,71.01 L102.87,72.01 L103.59,73.04 L104.31,74.08 L105.03,75.15 L105.75,76.25 L106.47,77.37 L107.19,78.51 L107.91,79.67 L108.63,80.85 L109.35,82.06 L110.07,83.28 L110.79,84.52 L111.50,85.78 L112.22,87.05 L112.94,88.35 L113.66,89.66 L114.38,90.98 L115.10,92.32 L115.82,93.67 L116.54,95.03 L117.26,96.41 L117.98,97.79 L118.70,99.19 L119.42,100.59 L120.14,102.01 L120.86,103.43 L121.58,104.85 L122.30,106.29 L123.01,107.73 L123.73,109.17 L124.45,110.61 L125.17,112.06 L125.89,113.51 L126.61,114.97 L127.33,116.42 L128.05,117.87 L128.77,119.32 L129.49,120.77 L130.21,122.22 L130.93,123.66 L131.65,125.11 L132.37,126.54 L133.09,127.97 L133.81,129.40 L134.52,130.82 L135.24,132.24 L135.96,133.65 L136.68,135.05 L137.40,136.44 L138.12,137.82 L138.84,139.20 L139.56,140.56 L140.28,141.92 L141.00,143.27 L141.72,144.61 L142.44,145.93 L143.16,147.25 L143.88,148.55 L144.60,149.85 L145.32,151.13 L146.03,152.40 L146.75,153.66 L147.47,154.91 L148.19,156.14 L148.91,157.36 L149.63,158.57 L150.35,159.77 L151.07,160.96 L151.79,162.13 L152.51,163.29 L153.23,164.43 L153.95,165.57 L154.67,166.69 L155.39,167.79 L156.11,168.89 L156.83,169.97 L157.54,171.03 L158.26,172.09 L158.98,173.13 L159.70,174.16 L160.42,175.17 L161.14,176.18 L161.86,177.17 L162.58,178.14 L163.30,179.10 L164.02,180.05 L164.74,180.99 L165.46,181.91 L166.18,182.83 L166.90,183.72 L167.62,184.61 L168.34,185.48 L169.05,186.34 L169.77,187.19 L170.49,188.02 L171.21,188.84 L171.93,189.65 L172.65,190.45 L173.37,191.23 L174.09,192.00 L174.81,192.76 L175.53,193.51 L176.25,194.24 L176.97,194.96 L177.69,195.67 L178.41,196.36 L179.13,197.05 L179.85,197.72 L180.56,198.38 L181.28,199.02 L182.00,199.66 L182.72,200.28 L183.44,200.89 L184.16,201.49 L184.88,202.07 L185.60,202.65 L186.32,203.21 L187.04,203.76 L187.76,204.30 L188.48,204.83 L189.20,205.35 L189.92,205.85 L190.64,206.35 L191.36,206.83 L192.07,207.30 L192.79,207.76 L193.51,208.21 L194.23,208.65 L194.95,209.08 L195.67,209.50 L196.39,209.90 L197.11,210.30 L197.83,210.69 L198.55,211.07 L199.27,211.44 L199.99,211.80 L200.71,212.14 L201.43,212.48 L202.15,212.82 L202.87,213.14 L203.58,213.45 L204.30,213.75 L205.02,214.05 L205.74,214.34 L206.46,214.62 L207.18,214.89 L207.90,215.15 L208.62,215.41 L209.34,215.66 L210.06,215.90 L210.78,216.13 L211.50,216.36 L212.22,216.58 L212.94,216.79 L213.66,217.00 L214.38,217.20 L215.09,217.39 L215.81,217.58 L216.53,217.77 L217.25,217.94 L217.97,218.11 L218.69,218.28 L219.41,218.44 L220.13,218.60 L220.85,218.75 L221.57,218.89 L222.29,219.03 L223.01,219.17 L223.73,219.30 L224.45,219.43 L225.17,219.55 L225.89,219.67 L226.60,219.78 L227.32,219.90 L228.04,220.00 L228.76,220.11 L229.48,220.21 L230.20,220.30 L230.92,220.40 L231.64,220.49 L232.36,220.58 L233.08,220.66 L233.80,220.74 L234.52,220.82 L235.24,220.90 L235.96,220.97 L236.68,221.04 L237.40,221.11 L238.11,221.17 L238.83,221.24 L239.55,221.30 L240.27,221.36 L240.99,221.42 L241.71,221.47 L242.43,221.52 L243.15,221.58 L243.87,221.63 L244.59,221.67 L245.31,221.72 L246.03,221.76 L246.75,221.81 L247.47,221.85 L248.19,221.89 L248.91,221.93 L249.62,221.96 L250.34,222.00 L251.06,222.03 L251.78,222.07 L252.50,222.10 L253.22,222.13 L253.94,222.16 L254.66,222.19 L255.38,222.22 L256.10,222.24 L256.82,222.27 L257.54,222.29 L258.26,222.32 L258.98,222.34 L259.70,222.36 L260.42,222.39 L261.13,222.41 L261.85,222.43 L262.57,222.45 L263.29,222.46 L264.01,222.48 L264.73,222.50 L265.45,222.52 L266.17,222.53 L266.89,222.55 L267.61,222.56 L268.33,222.58 L269.05,222.59 L269.77,222.60 L270.49,222.62 L271.21,222.63 L271.93,222.64 L272.64,222.65 L273.36,222.66 L274.08,222.67 L274.80,222.68 L275.52,222.69 L276.24,222.70 L276.96,222.71 L277.68,222.72 L278.40,222.73 L279.12,222.74 L279.84,222.75 L280.56,222.75 L281.28,222.76 L282.00,222.77 L282.72,222.77 L283.44,222.78 L284.15,222.79 L284.87,222.79 L285.59,222.80 L286.31,222.80 L287.03,222.81 L287.75,222.82 L288.47,222.82 L289.19,222.83 L289.91,222.83 L290.63,222.83 L291.35,222.84 L292.07,222.84 L292.79,222.85 L293.51,222.85 L294.23,222.86 L294.95,222.86 L295.66,222.86 L296.38,222.87 L297.10,222.87 L297.82,222.87 L298.54,222.88 L299.26,222.88 L299.98,222.88 L300.70,222.88 L301.42,222.89 L302.14,222.89 L302.86,222.89 L303.58,222.89 L304.30,222.90 L305.02,222.90 L305.74,222.90 L306.46,222.90 L307.17,222.90 L307.89,222.91 L308.61,222.91 L309.33,222.91 L310.05,222.91 L310.77,222.91 L311.49,222.91 L312.21,222.92 L312.93,222.92 L313.65,222.92 L314.37,222.92 L315.09,222.92 L315.81,222.92 L316.53,222.92 L317.25,222.92 L317.97,222.93 L318.68,222.93 L319.40,222.93 L320.12,222.93 L320.84,222.93 L321.56,222.93 L322.28,222.93 L323.00,222.93 L323.72,222.93 L324.44,222.93 L325.16,222.94 L325.88,222.94 L326.60,222.94 L327.32,222.94 L328.04,222.94 L328.76,222.94 L329.48,222.94 L330.19,222.94 L330.91,222.94 L331.63,222.94 L332.35,222.94 L333.07,222.94 L333.79,222.94 L334.51,222.94 L335.23,222.94" fill="none" stroke="#ffff00" stroke-width="2.30" stroke-dasharray="8.418,4.209"/>
</g>
<rect x="48.20" y="8.64" width="287.03" height="223.06" fill="none" stroke="#000" stroke-width="2"/>
<g>
<path d="M295.20,18.15H323.40" fill="none" stroke="#ff0000" stroke-width="2.30"/>
<path d="M295.20,27.91H323.40" fill="none" stroke="#0000ff" stroke-width="2.30" stroke-dasharray="4.240,6.360"/>
<path d="M295.20,37.67H323.40" fill="none" stroke="#000000" stroke-width="2.30" stroke-dasharray="2.120,3.180"/>
<path d="M295.20,47.43H323.40" fill="none" stroke="#00ff00" stroke-width="2.30" stroke-dasharray="12.720,4.240,2.120,4.240"/>
<path d="M295.20,57.19H323.40" fill="none" stroke="#ff00ff" stroke-width="2.30" stroke-dasharray="2.120,4.240,12.720,4.240,2.120,4.240"/>
<path d="M295.20,66.95H323.40" fill="none" stroke="#ffff00" stroke-width="2.30" stroke-dasharray="8.480,4.240"/>
</g>
<g class="txt">
<text x="49.00" y="245" text-anchor="middle">0</text>
<text x="93.16" y="245" text-anchor="middle">0.1</text>
<text x="137.32" y="245" text-anchor="middle">0.2</text>
<text x="181.48" y="245" text-anchor="middle">0.3</text>
<text x="225.63" y="245" text-anchor="middle">0.4</text>
<text x="269.79" y="245" text-anchor="middle">0.5</text>
<text x="313.95" y="245" text-anchor="middle">0.6</text>
<text x="42" y="235.20" text-anchor="end">0</text>
<text x="42" y="199.51" text-anchor="end">0.2</text>
<text x="42" y="163.82" text-anchor="end">0.4</text>
<text x="42" y="128.13" text-anchor="end">0.6</text>
<text x="42" y="92.44" text-anchor="end">0.8</text>
<text x="42" y="56.75" text-anchor="end">1</text>
<text x="42" y="21.06" text-anchor="end">1.2</text>
<text x="289.6" y="21.35" text-anchor="end"><tspan class="rho">&#961;</tspan><tspan class="sub" dy="3" dx="-0.6">B</tspan><tspan dy="-3"> / </tspan><tspan class="rho">&#961;</tspan><tspan class="sub" dy="3" dx="-0.6">0</tspan><tspan dy="-3"> = 0.00</tspan></text>
<text x="289.6" y="31.11" text-anchor="end"><tspan class="rho">&#961;</tspan><tspan class="sub" dy="3" dx="-0.6">B</tspan><tspan dy="-3"> / </tspan><tspan class="rho">&#961;</tspan><tspan class="sub" dy="3" dx="-0.6">0</tspan><tspan dy="-3"> = 0.25</tspan></text>
<text x="289.6" y="40.87" text-anchor="end"><tspan class="rho">&#961;</tspan><tspan class="sub" dy="3" dx="-0.6">B</tspan><tspan dy="-3"> / </tspan><tspan class="rho">&#961;</tspan><tspan class="sub" dy="3" dx="-0.6">0</tspan><tspan dy="-3"> = 0.50</tspan></text>
<text x="289.6" y="50.63" text-anchor="end"><tspan class="rho">&#961;</tspan><tspan class="sub" dy="3" dx="-0.6">B</tspan><tspan dy="-3"> / </tspan><tspan class="rho">&#961;</tspan><tspan class="sub" dy="3" dx="-0.6">0</tspan><tspan dy="-3"> = 0.75</tspan></text>
<text x="289.6" y="60.39" text-anchor="end"><tspan class="rho">&#961;</tspan><tspan class="sub" dy="3" dx="-0.6">B</tspan><tspan dy="-3"> / </tspan><tspan class="rho">&#961;</tspan><tspan class="sub" dy="3" dx="-0.6">0</tspan><tspan dy="-3"> = 1.00</tspan></text>
<text x="289.6" y="70.15" text-anchor="end"><tspan class="rho">&#961;</tspan><tspan class="sub" dy="3" dx="-0.6">B</tspan><tspan dy="-3"> / </tspan><tspan class="rho">&#961;</tspan><tspan class="sub" dy="3" dx="-0.6">0</tspan><tspan dy="-3"> = 1.25</tspan></text>
<text x="191.8" y="259.8" text-anchor="middle">T [GeV]</text>
<text transform="translate(11.6,120.6) rotate(-90)" text-anchor="middle">M<tspan class="sub" dy="3">u</tspan><tspan dy="-3">(T, </tspan><tspan class="rho">&#961;</tspan><tspan class="sub" dy="3">B</tspan><tspan dy="-3">) /M</tspan><tspan class="sub" dy="3">u</tspan><tspan dy="-3">(T=0,</tspan><tspan class="rho">&#961;</tspan><tspan class="sub" dy="3">B</tspan><tspan dy="-3">)</tspan></text>
</g>
</svg>
</body></html>
